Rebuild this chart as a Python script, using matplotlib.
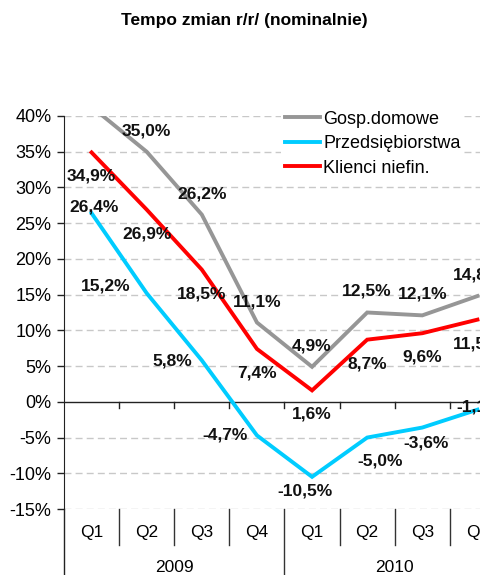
import matplotlib
matplotlib.use("Agg")
import matplotlib.pyplot as plt

plt.rcParams['font.family'] = ['Liberation Sans', 'DejaVu Sans']

quarters = ["Q1", "Q2", "Q3", "Q4", "Q1", "Q2", "Q3", "Q4"]
years = ["2009", "2010"]
series_names = ["Gosp.domowe", "Przedsiębiorstwa", "Klienci niefin."]
gosp = [41.3, 35.0, 26.2, 11.1, 4.9, 12.5, 12.1, 14.8]
przeds = [26.4, 15.2, 5.8, -4.7, -10.5, -5.0, -3.6, -1.1]
klienci = [34.9, 26.9, 18.5, 7.4, 1.6, 8.7, 9.6, 11.5]
yticks = [-15, -10, -5, 0, 5, 10, 15, 20, 25, 30, 35, 40]

colors = ["#969696", "#00CCFF", "#FF0000"]

W, H = 481, 575
fig = plt.figure(figsize=(W / 100, H / 100), dpi=100)
ax_left, ax_right = 64, 505
ax_top, ax_bot = 116, 509
ax = fig.add_axes([ax_left / W, (H - ax_bot) / H, (ax_right - ax_left) / W, (ax_bot - ax_top) / H])

x = list(range(len(quarters)))
ax.set_xlim(-0.5, len(quarters) - 0.5)
ax.set_ylim(-15, 40)

for v in yticks:
    if v != 0:
        ax.axhline(v, color="#C8C8C8", lw=1, ls=(0, (5, 3)), zorder=1)
ax.axhline(0, color="#222222", lw=1, zorder=2)

series = [gosp, przeds, klienci]
for vals, c, name in zip(series, colors, series_names):
    ax.plot(x, vals, color=c, lw=2.8, label=name, zorder=3, solid_joinstyle='miter')

# label offsets in pixels (dx, dy with up positive)
off_g = [(0, 21)] * 8
off_k = [(0, -24)] * 8
off_p = [(3, 6), (-41, 7), (-30, -1), (-32, 0), (-7, -14), (13, -23), (4, -15), (2, 3)]
for vals, offs in [(gosp, off_g), (klienci, off_k), (przeds, off_p)]:
    for xi, v, (dx, dy) in zip(x, vals, offs):
        ax.annotate(f"{v:.1f}%".replace(".", ","), (xi, v), xytext=(dx, dy),
                    textcoords="offset pixels", ha="center", va="center",
                    fontsize=12.5, fontweight="bold", color="#111111",
                    annotation_clip=False, clip_on=True, zorder=5)

ax.set_yticks(yticks)
ax.set_yticklabels([f"{v}%" for v in yticks], fontsize=13)
ax.tick_params(axis="y", direction="out", length=5, width=1, color="#222222", pad=4)
ax.set_xticks([])
for s in ["top", "right", "bottom"]:
    ax.spines[s].set_visible(False)
ax.spines["left"].set_color("#222222")

# x tick marks at zero line
for b in range(1, len(quarters)):
    ax.plot([b - 0.5, b - 0.5], [0, -0.85], color="#222222", lw=1, zorder=2, clip_on=False)

# category area below the plot
btrans = ax.get_xaxis_transform()
ph = ax_bot - ax_top
cat_h = 36 / ph
year_h = (H - ax_bot) / ph
ax.plot([-0.5, -0.5], [0, -year_h - 0.01], transform=btrans, color="#222222", lw=1, clip_on=False)
for b in range(1, len(quarters)):
    yb = -year_h - 0.01 if b == 4 else -cat_h
    ax.plot([b - 0.5, b - 0.5], [0, yb], transform=btrans, color="#333333", lw=1, clip_on=False)
for xi, q in zip(x, quarters):
    ax.text(xi, -24 / ph, q, transform=btrans, ha="center", va="center", fontsize=12.5, clip_on=False)
for i, yr in enumerate(years):
    ax.text(1.5 + 4 * i, -58 / ph, yr, transform=btrans, ha="center", va="center", fontsize=12.5, clip_on=False)

fig.text(244 / W, 1 - 21 / H, "Tempo zmian r/r/ (nominalnie)", ha="center", va="center",
         fontsize=12.5, fontweight="bold")

leg = ax.legend(loc="upper left", bbox_to_anchor=((281 - ax_left) / (ax_right - ax_left), (ax_bot - 107) / ph),
                fontsize=13, frameon=True, framealpha=1, facecolor="white", edgecolor="none",
                handlelength=1.95, handletextpad=0.2, labelspacing=0.42, borderpad=0.2, borderaxespad=0)
leg.set_zorder(6)

fig.savefig("out.png", dpi=100)
